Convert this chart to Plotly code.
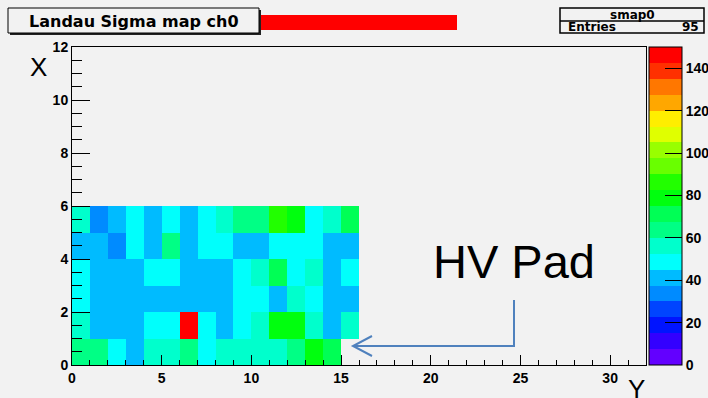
import plotly.graph_objects as go

# ---------------- data ----------------
col_bins = list(range(16))          # horizontal pad index ("Y")
row_bins = list(range(6))           # vertical pad index ("X")
row0 = [64, 64, 49, 41, 56, 56, 64, 49, 56, 56, 56, 56, 64, 79, 71, None]
row1 = [56, 41, 41, 41, 49, 49, 146, 49, 41, 49, 56, 79, 79, 56, 41, 56]
row2 = [49, 41, 41, 41, 41, 41, 41, 41, 41, 49, 49, 41, 56, 49, 41, 41]
row3 = [49, 41, 41, 41, 49, 49, 41, 41, 41, 49, 56, 71, 49, 56, 41, 49]
row4 = [41, 41, 34, 49, 41, 64, 41, 49, 49, 41, 41, 49, 49, 49, 41, 41]
row5 = [56, 34, 41, 49, 41, 49, 41, 49, 56, 64, 64, 86, 79, 49, 56, 71]
sigma = [row0, row1, row2, row3, row4, row5]
z_min, z_max = 0, 150
x_ticks = [0, 5, 10, 15, 20, 25, 30]
y_ticks = [0, 2, 4, 6, 8, 10, 12]
cb_ticks = [0, 20, 40, 60, 80, 100, 120, 140]
entries = 95

palette = ["#6300ff", "#3300ff", "#0014ff", "#0044ff", "#008bff",
           "#00bbff", "#00fffc", "#00ffcc", "#00ff85", "#00ff55",
           "#00ff0e", "#22ff00", "#69ff00", "#99ff00", "#e0ff00",
           "#ffee00", "#ffa700", "#ff7700", "#ff3000", "#ff0000"]

colorscale = []
n = len(palette)
for i, c in enumerate(palette):
    colorscale.append([i / n, c])
    colorscale.append([(i + 1) / n, c])

# pixel -> paper helpers for decorations
L, R, T, B = 72, 646, 47, 365
def PX(px):
    return (px - L) / (R - L)
def PY(py):
    return (B - py) / (B - T)

BG = "#f2f2f2"
BOLD = dict(family="Liberation Sans, Arial", size=14, color="black", weight="bold")

fig = go.Figure(go.Heatmap(
    x=[c + 0.5 for c in col_bins],
    y=[r + 0.5 for r in row_bins],
    z=sigma, zmin=z_min, zmax=z_max,
    colorscale=colorscale, hoverongaps=False,
    colorbar=dict(x=PX(649), xanchor="left", y=0, yanchor="bottom",
                  len=1, lenmode="fraction", thickness=33, thicknessmode="pixels",
                  xpad=0, ypad=0, outlinewidth=1, outlinecolor="black",
                  tickmode="array", tickvals=cb_ticks, ticks="inside", ticklen=17,
                  tickcolor="black", tickfont=BOLD),
))

fig.update_layout(
    width=708, height=398,
    margin=dict(l=L, r=708 - R, t=T, b=398 - B, autoexpand=False),
    paper_bgcolor=BG, plot_bgcolor=BG,
    showlegend=False,
    xaxis=dict(range=[0, 32], tickmode="array", tickvals=x_ticks,
               ticks="inside", ticklen=10, tickcolor="black", tickwidth=1,
               showline=True, mirror=True, linecolor="black", linewidth=1,
               showgrid=False, zeroline=False, tickfont=BOLD,
               minor=dict(dtick=1, ticks="inside", ticklen=5, tickcolor="black", showgrid=False)),
    yaxis=dict(range=[0, 12], tickmode="array", tickvals=y_ticks,
               ticks="inside", ticklen=18, tickcolor="black", tickwidth=1,
               showline=True, mirror=True, linecolor="black", linewidth=1,
               showgrid=False, zeroline=False, tickfont=BOLD,
               minor=dict(dtick=0.5, ticks="inside", ticklen=10, tickcolor="black", showgrid=False)),
)

shapes = []
# title box with shadow
shapes.append(dict(type="rect", xref="paper", yref="paper",
                   x0=PX(10), x1=PX(261), y0=PY(35), y1=PY(10),
                   fillcolor="#222222", line=dict(width=0)))
shapes.append(dict(type="rect", xref="paper", yref="paper",
                   x0=PX(8), x1=PX(259), y0=PY(33), y1=PY(8),
                   fillcolor=BG, line=dict(color="black", width=1)))
# red bar
shapes.append(dict(type="rect", xref="paper", yref="paper",
                   x0=PX(261), x1=PX(457), y0=PY(30), y1=PY(15),
                   fillcolor="#ff0000", line=dict(width=0)))
# stats box
shapes.append(dict(type="rect", xref="paper", yref="paper",
                   x0=PX(560), x1=PX(704), y0=PY(33), y1=PY(8),
                   fillcolor=BG, line=dict(color="black", width=1.5)))
shapes.append(dict(type="line", xref="paper", yref="paper",
                   x0=PX(560), x1=PX(704), y0=PY(21), y1=PY(21),
                   line=dict(color="black", width=1.5)))
# HV Pad arrow
arrow_col = "#4f81bd"
shapes.append(dict(type="path", xref="paper", yref="paper",
                   path=f"M {PX(514)},{PY(300)} L {PX(514)},{PY(346)} L {PX(353)},{PY(346)}",
                   line=dict(color=arrow_col, width=2)))
shapes.append(dict(type="path", xref="paper", yref="paper",
                   path=f"M {PX(372)},{PY(336)} L {PX(353)},{PY(346)} L {PX(372)},{PY(356)}",
                   line=dict(color=arrow_col, width=2)))
fig.update_layout(shapes=shapes)

TITLE_FONT = dict(family="DejaVu Sans", size=16, color="black", weight="bold")
STAT_FONT = dict(family="DejaVu Sans", size=12, color="black", weight="bold")
BIG = dict(family="Liberation Sans, Arial", size=26, color="black")
ann = [
    dict(text="Landau Sigma map ch0", x=PX(133.5), y=PY(21), font=TITLE_FONT,
         xanchor="center", yanchor="middle"),
    dict(text="smap0", x=PX(632), y=PY(14.5), font=STAT_FONT,
         xanchor="center", yanchor="middle"),
    dict(text="Entries", x=PX(566), y=PY(27.5), font=STAT_FONT,
         xanchor="left", yanchor="middle"),
    dict(text=str(entries), x=PX(701), y=PY(27.5), font=STAT_FONT,
         xanchor="right", yanchor="middle"),
    dict(text="X", x=PX(38), y=PY(67), font=BIG, xanchor="center", yanchor="middle"),
    dict(text="Y", x=PX(636), y=PY(389), font=BIG, xanchor="center", yanchor="middle"),
    dict(text="HV Pad", x=PX(514), y=PY(261), xanchor="center", yanchor="middle",
         font=dict(family="Liberation Sans, Arial", size=47, color="black")),
]
for a in ann:
    a.update(xref="paper", yref="paper", showarrow=False)
fig.update_layout(annotations=ann)

fig.write_html("out.html", config={"displayModeBar": False},
               post_script="document.body.style.margin='0px';")
